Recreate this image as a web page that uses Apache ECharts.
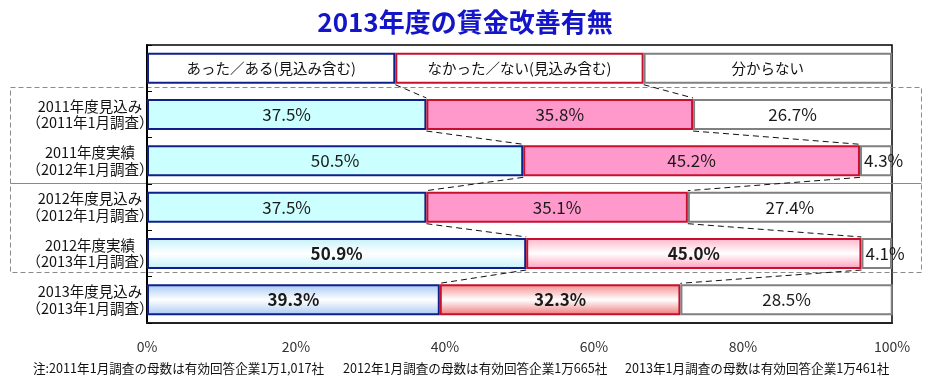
<!DOCTYPE html>
<html>
<head>
<meta charset="utf-8">
<script src="https://cdn.jsdelivr.net/npm/echarts@6/dist/echarts.min.js"></script>
<style>html,body{margin:0;padding:0;background:#fff}#c{width:930px;height:384px}</style>
</head>
<body>
<div id="c"></div>
<script>
// ---- data ----
const categories = ['', '2011年度見込み\n（2011年1月調査）', '2011年度実績\n（2012年1月調査）', '2012年度見込み\n（2012年1月調査）', '2012年度実績\n（2013年1月調査）', '2013年度見込み\n（2013年1月調査）'];
const legendNames = ['あった／ある(見込み含む)', 'なかった／ない(見込み含む)', '分からない'];
const legendShares = [33.33, 33.33, 33.34];
const yesValues = [37.5, 50.5, 37.5, 50.9, 39.3];
const noValues = [35.8, 45.2, 35.1, 45.0, 32.3];
const unknownValues = [26.7, 4.3, 27.4, 4.1, 28.5];
const xTicks = [0, 20, 40, 60, 80, 100];
const notes = ['注:2011年1月調査の母数は有効回答企業1万1,017社', '2012年1月調査の母数は有効回答企業1万665社', '2013年1月調査の母数は有効回答企業1万461社'];

// ---- styles ----
const FONT = '"Noto Sans CJK JP", "Noto Sans", sans-serif';
const borders = ['#10208A', '#C8102E', '#808080'];
function grad(c1, c2) {
  return {type: 'linear', x: 0, y: 0, x2: 0, y2: 1, colorStops: [
    {offset: 0, color: c1}, {offset: 0.5, color: '#FFFFFF'}, {offset: 1, color: c2}]};
}
const fills = [
  ['#CCFFFF', '#CCFFFF', '#CCFFFF', grad('#C4F2FA', '#C4F2FA'), grad('#A6C8F4', '#A6C8F4')],
  ['#FF99CC', '#FF99CC', '#FF99CC', grad('#FFB4CA', '#FF9CBC'), grad('#F28C8C', '#EE7474')],
  ['#FFFFFF', '#FFFFFF', '#FFFFFF', '#FFFFFF', '#FFFFFF']
];
const boldRows = [[3, 4], [3, 4], []];

const seriesValues = [yesValues, noValues, unknownValues];

function buildData(si) {
  const arr = [{
    value: legendShares[si],
    itemStyle: {color: '#FFFFFF', borderColor: borders[si], borderWidth: 2},
    label: {show: true, formatter: legendNames[si], fontSize: 14.5, fontWeight: 'normal', color: '#111'}
  }];
  seriesValues[si].forEach((v, i) => {
    const small = v < 10;
    arr.push({
      value: v,
      itemStyle: {color: fills[si][i], borderColor: borders[si], borderWidth: 2},
      label: {
        show: true,
        position: small ? 'insideLeft' : 'inside',
        distance: 4,
        formatter: v.toFixed(1) + '%',
        fontSize: 17,
        fontWeight: boldRows[si].indexOf(i) >= 0 ? 'bold' : 'normal',
        color: '#1a1a1a'
      }
    });
  });
  return arr;
}

// cumulative boundaries per row (row 0 = legend row)
const cumRows = [[legendShares[0], legendShares[0] + legendShares[1]]];
yesValues.forEach((v, i) => cumRows.push([v, v + noValues[i]]));
const connectorData = [];
for (let r = 0; r < cumRows.length - 1; r++) {
  connectorData.push([r, cumRows[r][0], cumRows[r][1], cumRows[r + 1][0], cumRows[r + 1][1]]);
}
const GAP = 0.33;

const chart = echarts.init(document.getElementById('c'));
const option = {
  backgroundColor: '#fff',
  animation: false,
  textStyle: {fontFamily: FONT},
  title: {
    text: '2013年度の賃金改善有無', left: 'center', top: 4,
    textStyle: {fontFamily: FONT, fontSize: 26, fontWeight: 'bold', color: '#1414C8'}
  },
  grid: {left: 147, right: 38, top: 45, bottom: 61, show: true, borderColor: '#000', borderWidth: 1.5, backgroundColor: 'transparent'},
  xAxis: {
    type: 'value', min: 0, max: 100, interval: 20,
    axisLine: {show: true, lineStyle: {color: '#222', width: 2}},
    axisTick: {show: false},
    splitLine: {show: false},
    axisLabel: {formatter: v => (xTicks.indexOf(v) >= 0 ? v + '%' : ''), fontSize: 14, color: '#333', margin: 17, fontFamily: FONT}
  },
  yAxis: {
    type: 'category', inverse: true, data: categories,
    axisLine: {show: true, lineStyle: {color: '#000', width: 2}},
    axisTick: {show: true, inside: true, length: 5, lineStyle: {color: '#000', width: 1}},
    axisLabel: {align: 'center', margin: 57, fontSize: 14.5, lineHeight: 16.5, color: '#111', fontFamily: FONT}
  },
  graphic: [
    {type: 'rect', shape: {x: 10.5, y: 87.5, width: 911, height: 185}, style: {fill: 'none', stroke: '#8a8a8a', lineWidth: 1, lineDash: [5, 3]}, z: 0},
    {type: 'line', shape: {x1: 10.5, y1: 183.5, x2: 921.5, y2: 183.5}, style: {stroke: '#8a8a8a', lineWidth: 1}, z: 0},
    {type: 'text', left: 33, top: 362, style: {text: notes[0], font: '12.6px ' + FONT, fill: '#111'}},
    {type: 'text', left: 343, top: 362, style: {text: notes[1], font: '12.6px ' + FONT, fill: '#111'}},
    {type: 'text', left: 625, top: 362, style: {text: notes[2], font: '12.6px ' + FONT, fill: '#111'}}
  ],
  series: [
    {type: 'bar', name: legendNames[0], stack: 'total', barCategoryGap: (GAP * 100) + '%', data: buildData(0), z: 3},
    {type: 'bar', name: legendNames[1], stack: 'total', barCategoryGap: (GAP * 100) + '%', data: buildData(1), z: 3},
    {type: 'bar', name: legendNames[2], stack: 'total', barCategoryGap: (GAP * 100) + '%', data: buildData(2), z: 3},
    {
      type: 'custom', coordinateSystem: 'cartesian2d', clip: false, silent: true, z: 4,
      encode: {x: 1, y: 0},
      data: connectorData,
      renderItem: function (params, api) {
        const r = api.value(0);
        const band = api.size([0, 1])[1];
        const half = band * (1 - GAP) / 2;
        const kids = [];
        [[1, 3], [2, 4]].forEach(function (p) {
          const a = api.coord([api.value(p[0]), r]);
          const b = api.coord([api.value(p[1]), r + 1]);
          kids.push({type: 'line', shape: {x1: a[0], y1: a[1] + half + 1, x2: b[0], y2: b[1] - half - 1},
            style: {stroke: '#111', lineWidth: 1, lineDash: [6, 4]}});
        });
        return {type: 'group', children: kids};
      }
    }
  ]
};
chart.setOption(option);
</script>
</body>
</html>
